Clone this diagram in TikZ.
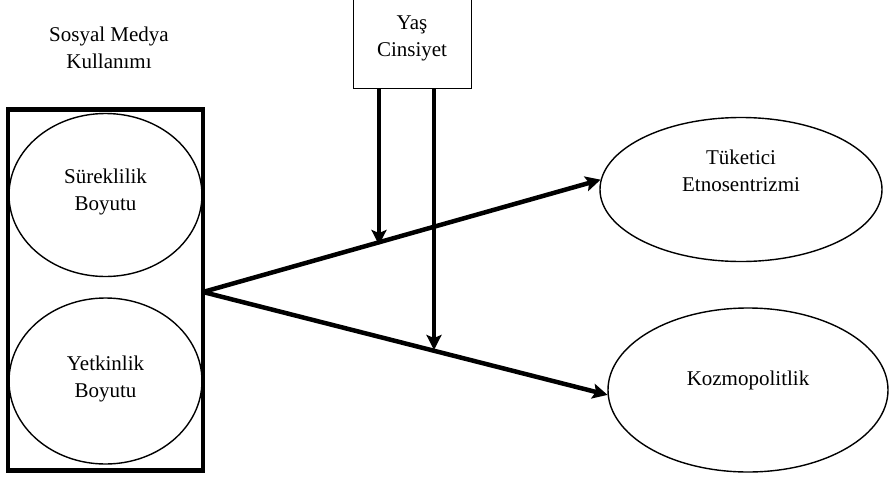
\documentclass[tikz,border=0pt]{standalone}
\usepackage{fontspec}
\setmainfont{Liberation Serif}
\usetikzlibrary{arrows.meta,calc,shapes.geometric}
\begin{document}
\begin{tikzpicture}[x=1pt,y=-1pt,
  txt/.style={font=\fontsize{21}{27}\selectfont,align=center,inner sep=0pt},
  ell/.style={draw,ellipse,line width=1.4pt,inner sep=0pt},
  thick arrow/.style={line width=4.5pt,-{Stealth[length=15pt,width=15pt,inset=3pt]}}
]
\useasboundingbox (0,0) rectangle (889,477);
% left group
\node[draw,line width=4.5pt,minimum width=195pt,minimum height=361pt,inner sep=0pt] (grp) at (105.5,290) {};
\node[ell,minimum width=193pt,minimum height=163pt] (sur) at (105.5,195) {};
\node[txt] (surt) at (105.5,192) {Süreklilik\\Boyutu};
\node[ell,minimum width=193pt,minimum height=166pt] (yet) at (105.5,381) {};
\node[txt] (yett) at (105.5,379) {Yetkinlik\\Boyutu};
\node[txt] (sm) at (109,48) {Sosyal Medya\\Kullanımı};
% moderator box
\node[draw,line width=1pt,minimum width=118pt,minimum height=89pt,inner sep=0pt] (yas) at (412,43.5) {};
\node[txt] (yast) at (412,38) {Yaş\\Cinsiyet};
% outcome ellipses
\node[ell,minimum width=282pt,minimum height=144pt] (tuk) at (741,189.5) {};
\node[txt] (tukt) at (741,171) {Tüketici\\Etnosentrizmi};
\node[ell,minimum width=280pt,minimum height=164pt] (koz) at (748,390) {};
\node[txt] (kozt) at (748,380) {Kozmopolitlik};
% connectors
\coordinate (hub) at (203,292);
\coordinate (m1) at (379,245);
\coordinate (m2) at (434,350);
\draw[thick arrow] (hub) -- (tuk.176);
\draw[thick arrow] (hub) -- (koz.182);
\draw[thick arrow] (yas.south -| m1) -- (m1);
\draw[thick arrow] (yas.south -| m2) -- (m2);
\end{tikzpicture}
\end{document}
